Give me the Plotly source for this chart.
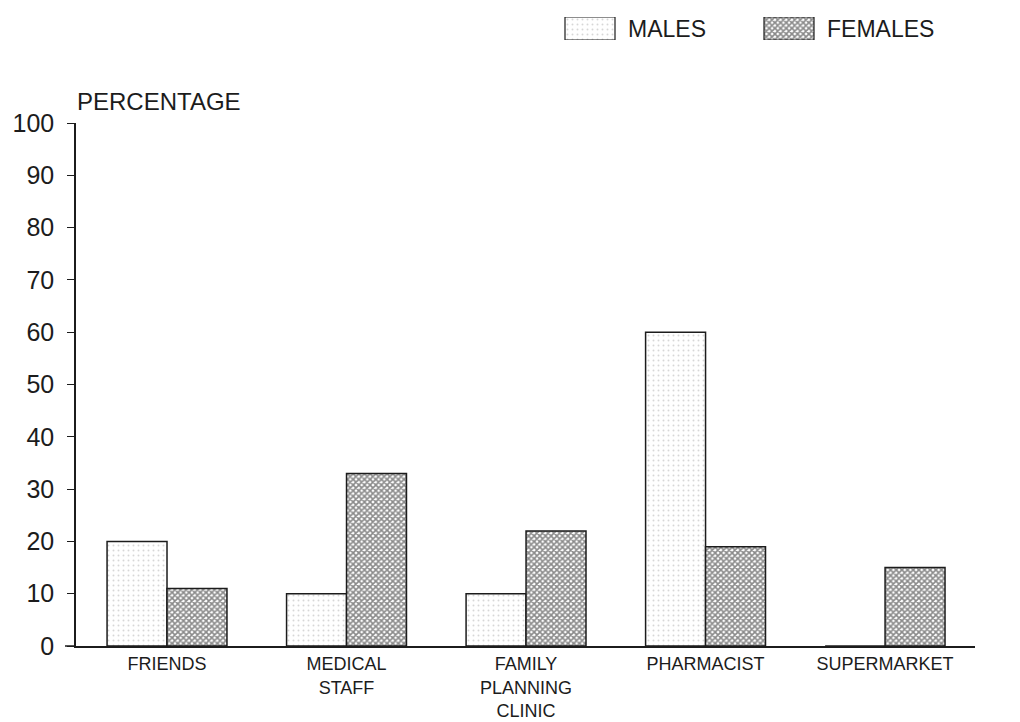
import plotly.graph_objects as go

categories = ["FRIENDS", "MEDICAL<br>STAFF", "FAMILY<br>PLANNING<br>CLINIC", "PHARMACIST", "SUPERMARKET"]
males = [20, 10, 10, 60, 0]
females = [11, 33, 22, 19, 15]
y_ticks = [0, 10, 20, 30, 40, 50, 60, 70, 80, 90, 100]

W, H = 1020, 722
OFF = 8  # the page body adds an 8px margin around the figure
FONT = "Liberation Sans"
INK = "#1c1c1c"


def px_x(p):
    return (p - OFF) / W


def px_y(p):
    return (H - (p - OFF)) / H


male_marker = dict(
    color="white",
    line=dict(color=INK, width=1.5),
    pattern=dict(shape=".", size=5, solidity=0.12, fgcolor="#b0b0b0", bgcolor="white"),
)
female_marker = dict(
    color="white",
    line=dict(color=INK, width=1.5),
    pattern=dict(shape="x", size=4, solidity=0.65, fgcolor="#151515", bgcolor="white"),
)

x_pos = list(range(len(categories)))

fig = go.Figure()
fig.add_trace(go.Bar(x=x_pos, y=males, name="MALES", marker=male_marker))
fig.add_trace(go.Bar(x=x_pos, y=females, name="FEMALES", marker=female_marker))

# legend boxes drawn on a tiny inset axis
fig.add_trace(go.Bar(x=[590, 789], y=[1, 1], width=[50, 50], xaxis="x2", yaxis="y2",
                     marker=dict(color="white", line=dict(color=INK, width=1.2),
                                 pattern=dict(shape=[".", "x"], size=[5, 4], solidity=[0.12, 0.65],
                                              fgcolor=["#b0b0b0", "#151515"], bgcolor="white")),
                     showlegend=False, cliponaxis=False, hoverinfo="skip"))

fig.update_layout(
    width=W,
    height=H,
    margin=dict(l=0, r=0, t=0, b=0),
    paper_bgcolor="white",
    plot_bgcolor="white",
    barmode="group",
    bargap=0.332,
    bargroupgap=0,
    showlegend=False,
    font=dict(family=FONT, color=INK),
    xaxis=dict(
        domain=[px_x(76), px_x(975)],
        range=[-0.507, 4.501],
        tickmode="array",
        tickvals=x_pos,
        ticktext=categories,
        ticks="",
        showline=True,
        linecolor=INK,
        linewidth=1.5,
        showgrid=False,
        zeroline=False,
        tickfont=dict(size=18, family=FONT, color=INK),
        ticklabelstandoff=1,
        automargin=False,
    ),
    yaxis=dict(
        domain=[px_y(646), px_y(123)],
        range=[0, 100],
        tickmode="array",
        tickvals=y_ticks,
        ticks="outside",
        ticklen=7,
        tickwidth=1.3,
        tickcolor=INK,
        showline=True,
        linecolor=INK,
        linewidth=1.5,
        showgrid=False,
        zeroline=False,
        tickfont=dict(size=25, family=FONT, color=INK),
        ticklabelstandoff=8,
        automargin=False,
    ),
    xaxis2=dict(domain=[px_x(560), px_x(820)], range=[560, 820], visible=False, anchor="y2"),
    yaxis2=dict(domain=[px_y(40), px_y(17)], range=[0, 1], visible=False, anchor="x2"),
)

# short extension of the baseline to the left of the y axis
fig.add_shape(type="line", xref="paper", yref="paper",
              x0=px_x(65), x1=px_x(76), y0=px_y(646), y1=px_y(646),
              line=dict(color=INK, width=1.5))

fig.add_annotation(text="PERCENTAGE", xref="paper", yref="paper", x=px_x(75), y=px_y(101),
                   xanchor="left", yanchor="middle", showarrow=False,
                   font=dict(size=24, family=FONT, color=INK))
fig.add_annotation(text="MALES", xref="paper", yref="paper", x=px_x(626), y=px_y(29),
                   xanchor="left", yanchor="middle", showarrow=False,
                   font=dict(size=23, family=FONT, color=INK))
fig.add_annotation(text="FEMALES", xref="paper", yref="paper", x=px_x(825), y=px_y(29),
                   xanchor="left", yanchor="middle", showarrow=False,
                   font=dict(size=23, family=FONT, color=INK))

fig.write_html("out.html")
